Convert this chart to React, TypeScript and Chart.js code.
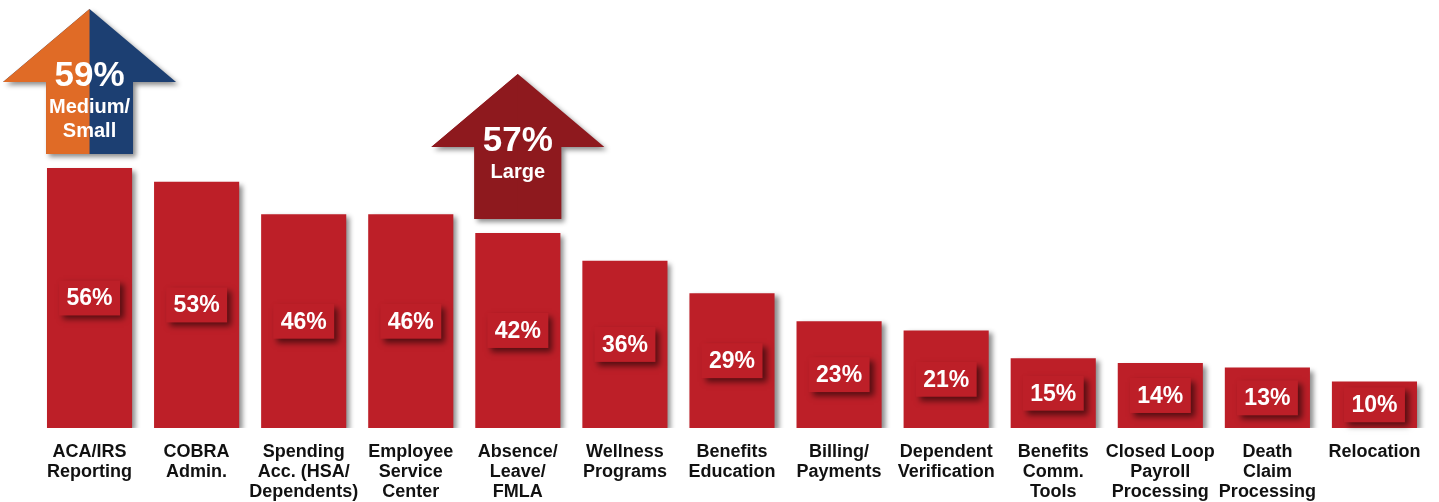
import React, { useEffect, useRef } from "react";
import { Chart, registerables } from "chart.js";

Chart.register(...registerables);

const categories: string[][] = [
  ["ACA/IRS", "Reporting"],
  ["COBRA", "Admin."],
  ["Spending", "Acc. (HSA/", "Dependents)"],
  ["Employee", "Service", "Center"],
  ["Absence/", "Leave/", "FMLA"],
  ["Wellness", "Programs"],
  ["Benefits", "Education"],
  ["Billing/", "Payments"],
  ["Dependent", "Verification"],
  ["Benefits", "Comm.", "Tools"],
  ["Closed Loop", "Payroll", "Processing"],
  ["Death", "Claim", "Processing"],
  ["Relocation"],
];

const values: number[] = [56, 53, 46, 46, 42, 36, 29, 23, 21, 15, 14, 13, 10];

const arrowIndexes: number[] = [0, 4];
const arrowValues: string[] = ["59%", "57%"];
const arrowSubLabels: string[][] = [["Medium/", "Small"], ["Large"]];
const arrowColors: string[][] = [["#E06B26", "#1C3F72"], ["#8E191E", "#8E191E"]];

const BAR_COLOR = "#BD1F28";
const FONT = "'Liberation Sans', Arial, Helvetica, sans-serif";

const shadowPlugin = {
  id: "barShadow",
  beforeDatasetsDraw(chart: any) {
    const ctx = chart.ctx;
    ctx.save();
    ctx.shadowColor = "rgba(0,0,0,0.45)";
    ctx.shadowBlur = 5;
    ctx.shadowOffsetX = 4;
    ctx.shadowOffsetY = 3;
  },
  afterDatasetsDraw(chart: any) {
    const ctx = chart.ctx;
    ctx.restore();
    const meta = chart.getDatasetMeta(0);
    meta.data.forEach((bar: any, i: number) => {
      const cx = bar.x;
      const cy = (bar.y + bar.base) / 2;
      const w = 61;
      const h = 35;
      ctx.save();
      ctx.shadowColor = "rgba(0,0,0,0.55)";
      ctx.shadowBlur = 6;
      ctx.shadowOffsetX = 4;
      ctx.shadowOffsetY = 4;
      ctx.fillStyle = BAR_COLOR;
      ctx.fillRect(cx - w / 2, cy - h / 2, w, h);
      ctx.restore();
      ctx.save();
      ctx.fillStyle = "#FFFFFF";
      ctx.font = `bold 23px ${FONT}`;
      ctx.textAlign = "center";
      ctx.textBaseline = "middle";
      ctx.fillText(`${values[i]}%`, cx, cy + 1);
      ctx.restore();
    });
  },
};

const arrowPlugin = {
  id: "arrows",
  afterDraw(chart: any) {
    const ctx = chart.ctx;
    const xs = chart.scales.x;
    const ys = chart.scales.y;
    arrowIndexes.forEach((idx, k) => {
      const cx = xs.getPixelForValue(idx);
      const bottom = ys.getPixelForValue(values[idx]) - 14;
      const tip = bottom - 145;
      const headBase = tip + 73;
      const shaftHalf = 43.5;
      const headHalf = 86.5;
      const path = new Path2D();
      path.moveTo(cx, tip);
      path.lineTo(cx + headHalf, headBase);
      path.lineTo(cx + shaftHalf, headBase);
      path.lineTo(cx + shaftHalf, bottom);
      path.lineTo(cx - shaftHalf, bottom);
      path.lineTo(cx - shaftHalf, headBase);
      path.lineTo(cx - headHalf, headBase);
      path.closePath();
      ctx.save();
      ctx.shadowColor = "rgba(0,0,0,0.45)";
      ctx.shadowBlur = 5;
      ctx.shadowOffsetX = 3;
      ctx.shadowOffsetY = 3;
      ctx.fillStyle = arrowColors[k][1];
      ctx.fill(path);
      ctx.restore();
      ctx.save();
      ctx.beginPath();
      ctx.rect(cx - headHalf - 2, tip - 2, headHalf + 2, bottom - tip + 4);
      ctx.clip();
      ctx.fillStyle = arrowColors[k][0];
      ctx.fill(path);
      ctx.restore();
      ctx.save();
      ctx.fillStyle = "#FFFFFF";
      ctx.textAlign = "center";
      ctx.textBaseline = "middle";
      ctx.font = `bold 35px ${FONT}`;
      ctx.fillText(arrowValues[k], cx, tip + 67);
      ctx.font = `bold 20px ${FONT}`;
      arrowSubLabels[k].forEach((line, j) => {
        ctx.fillText(line, cx, tip + 99 + j * 24);
      });
      ctx.restore();
    });
  },
};

export default function App() {
  const canvasRef = useRef<HTMLCanvasElement | null>(null);

  useEffect(() => {
    if (!canvasRef.current) return;
    const chart = new Chart(canvasRef.current, {
      type: "bar",
      data: {
        labels: categories,
        datasets: [
          {
            data: values,
            backgroundColor: BAR_COLOR,
            borderWidth: 0,
            barPercentage: 0.795,
            categoryPercentage: 1,
          },
        ],
      },
      options: {
        animation: false,
        responsive: true,
        maintainAspectRatio: false,
        layout: { padding: { left: 36, right: 11, top: 10, bottom: 0 } },
        plugins: {
          legend: { display: false },
          tooltip: { enabled: false },
        },
        scales: {
          x: {
            grid: { display: false, drawTicks: false },
            border: { display: false },
            afterFit: (scale: any) => {
              scale.height = 74;
            },
            ticks: {
              autoSkip: false,
              maxRotation: 0,
              minRotation: 0,
              padding: 14,
              color: "#111111",
              font: { family: FONT, size: 18, weight: "bold", lineHeight: "20px" },
            },
          },
          y: {
            display: false,
            min: 0,
            max: 90,
          },
        },
      },
      plugins: [shadowPlugin, arrowPlugin],
    });
    return () => chart.destroy();
  }, []);

  return (
    <div style={{ position: "absolute", left: 0, top: 0, width: 1439, height: 502, background: "#FFFFFF" }}>
      <canvas ref={canvasRef} />
    </div>
  );
}
